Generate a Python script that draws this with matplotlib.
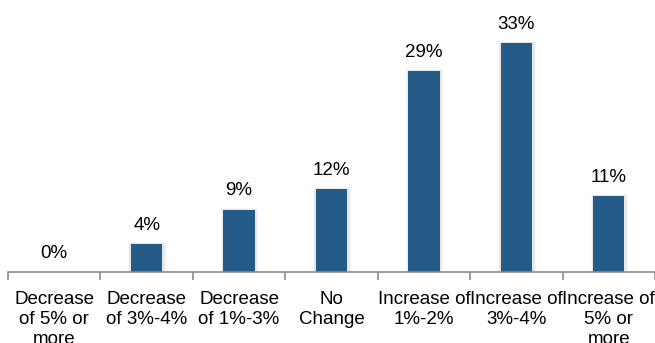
import matplotlib.pyplot as plt
import numpy as np

plt.rcParams['font.family'] = ['Liberation Sans', 'DejaVu Sans']

# Distribución de respuestas por categoría
categories = ['Decrease\nof 5% or\nmore', 'Decrease\nof 3%-4%', 'Decrease\nof 1%-3%',
              'No\nChange', 'Increase of\n1%-2%', 'Increase of\n3%-4%', 'Increase of\n5% or\nmore']
values = [0, 4, 9, 12, 29, 33, 11]

bar_color = '#255b89'
x = np.arange(len(categories))

fig = plt.figure(figsize=(6.55, 3.43), dpi=100)
ax = fig.add_axes([8 / 655, 71 / 343, 647 / 655, 272 / 343])

# Sombra suave detrás de cada barra (sólo las que tienen altura)
vals = np.array(values)
shown = vals > 0
ax.bar(x[shown], vals[shown], width=0.35, color='none', edgecolor='#e8e8e8',
       linewidth=2.5, zorder=1)
ax.bar(x, values, width=0.34, color=bar_color, zorder=2)

for xi, v in zip(x, values):
    ax.text(xi, v + 1.45, f'{v}%', ha='center', va='bottom', fontsize=13.5)

ax.set_xlim(-0.5, len(categories) - 0.5)
ax.set_ylim(0, 39.2)
ax.set_yticks([])
for side in ['top', 'right', 'left']:
    ax.spines[side].set_visible(False)
ax.spines['bottom'].set_color('#8c8c8c')
ax.spines['bottom'].set_linewidth(1.2)

ax.set_xticks(x)
ax.set_xticklabels(categories, fontsize=13.5, linespacing=1.24)
ax.tick_params(axis='x', which='major', length=0, pad=13.5)
ax.set_xticks(np.arange(len(categories) + 1) - 0.5, minor=True)
ax.tick_params(axis='x', which='minor', length=6, color='#8c8c8c', width=1.2)

fig.savefig('out.png', dpi=100)
